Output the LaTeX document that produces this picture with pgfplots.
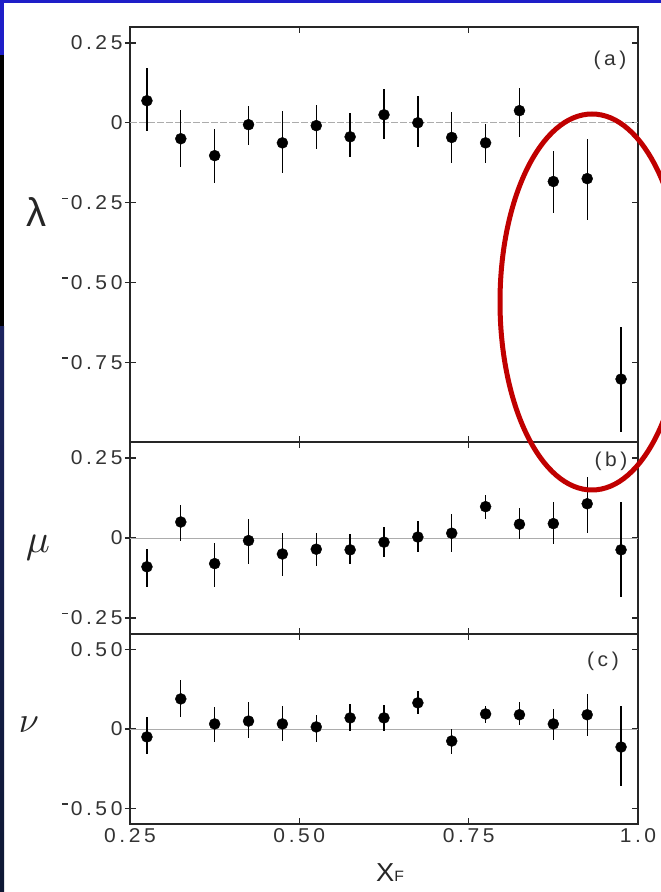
\documentclass[border=0pt]{standalone}
\usepackage{pgfplots}
\pgfplotsset{compat=1.18}
\usepackage{pgfplotstable}
\usepackage{fontspec}
\newfontfamily\lab[FakeStretch=1.05,LetterSpace=18]{Liberation Sans}
\newfontfamily\glab{Liberation Sans}
\newcommand\m{\rule[0.52em]{0.3em}{0.07em}\hspace{0.12em}}
\definecolor{topblue}{RGB}{30,30,200}
\definecolor{navyA}{RGB}{28,36,95}
\definecolor{navyB}{RGB}{14,24,52}
\definecolor{ellred}{RGB}{192,0,0}

\pgfplotstableread{
x y ep em
0.275 0.069 0.103 0.094
0.325 -0.050 0.090 0.090
0.375 -0.103 0.084 0.087
0.425 -0.006 0.059 0.064
0.475 -0.063 0.100 0.094
0.525 -0.009 0.065 0.072
0.575 -0.044 0.074 0.062
0.625 0.025 0.081 0.075
0.675 0.000 0.084 0.075
0.725 -0.046 0.081 0.079
0.775 -0.063 0.060 0.062
0.825 0.038 0.072 0.082
0.875 -0.184 0.096 0.100
0.925 -0.175 0.125 0.131
0.975 -0.803 0.163 0.167
}\lamdata

\pgfplotstableread{
x y ep em
0.275 -0.090 0.055 0.064
0.325 0.050 0.053 0.060
0.375 -0.080 0.065 0.072
0.425 -0.008 0.066 0.072
0.475 -0.050 0.065 0.068
0.525 -0.035 0.050 0.052
0.575 -0.037 0.050 0.043
0.625 -0.013 0.048 0.045
0.675 0.003 0.050 0.046
0.725 0.015 0.060 0.060
0.775 0.098 0.036 0.040
0.825 0.043 0.050 0.046
0.875 0.045 0.068 0.064
0.925 0.107 0.083 0.091
0.975 -0.037 0.149 0.147
}\mudata

\pgfplotstableread{
x y ep em
0.275 -0.050 0.126 0.108
0.325 0.190 0.120 0.114
0.375 0.032 0.108 0.114
0.425 0.050 0.120 0.107
0.475 0.032 0.114 0.108
0.525 0.013 0.077 0.095
0.575 0.070 0.088 0.083
0.625 0.070 0.080 0.083
0.675 0.165 0.075 0.070
0.725 -0.076 0.076 0.082
0.775 0.095 0.051 0.055
0.825 0.090 0.080 0.065
0.875 0.032 0.095 0.102
0.925 0.090 0.130 0.134
0.975 -0.114 0.260 0.246
}\nudata

\pgfplotsset{
  panel/.style={
    scale only axis, width=508pt, anchor=south west,
    xmin=0.25, xmax=1.0, xtick={0.25,0.5,0.75,1},
    tick align=inside, major tick length=6pt,
    axis line style={line width=1.5pt, black!85},
    tick style={line width=1.2pt, black!85},
    ticklabel style={font=\fontsize{20}{22}\lab, black!80},
    yticklabel style={xshift=-4pt},
    xticklabel style={yshift=-1pt},
    extra y tick labels={},
    extra y tick style={tick align=outside, major tick length=5pt, ytick pos=left},
  },
  zeroline/.style={gray!65, line width=0.7pt, forget plot},
  pts/.style={only marks, mark=*, mark size=5.5pt, black,
    error bars/.cd, y dir=both, y explicit, error mark=none,
    error bar style={line width=1.3pt, black}},
}

\begin{document}
\begin{tikzpicture}
\useasboundingbox (0,0) rectangle (661pt,892pt);
\fill[white] (0,0) rectangle (661pt,892pt);
\fill[topblue] (0,889pt) rectangle (661pt,892pt);
\fill[topblue] (0,837pt) rectangle (4pt,892pt);
\fill[black] (0,565pt) rectangle (4pt,837pt);
\shade[top color=navyA, bottom color=navyB] (0,0) rectangle (4pt,565pt);

% panel (a)
\begin{axis}[panel, at={(130pt,450pt)}, height=415pt,
  ymin=-1.0, ymax=0.30,
  ytick={-0.75,-0.5,-0.25,0,0.25},
  yticklabels={{\m0.75},{\m0.50},{\m0.25},0,0.25},
  extra y ticks={-0.75,-0.5,-0.25,0,0.25},
  xticklabels={}]
\addplot[zeroline, dash pattern=on 7pt off 2pt] coordinates {(0.25,0) (1,0)};
\addplot[pts] table[x=x, y=y, y error plus=ep, y error minus=em] {\lamdata};
\end{axis}

% panel (b)
\begin{axis}[panel, at={(130pt,258pt)}, height=192pt,
  ymin=-0.30, ymax=0.30,
  ytick={-0.25,0,0.25},
  yticklabels={{\m0.25},0,0.25},
  extra y ticks={-0.25,0,0.25},
  xticklabels={}]
\addplot[zeroline] coordinates {(0.25,0) (1,0)};
\addplot[pts] table[x=x, y=y, y error plus=ep, y error minus=em] {\mudata};
\end{axis}

% panel (c)
\begin{axis}[panel, at={(130pt,68pt)}, height=190pt,
  ymin=-0.60, ymax=0.60,
  ytick={-0.5,0,0.5},
  yticklabels={{\m0.50},0,0.50},
  extra y ticks={-0.5,0,0.5},
  xticklabels={0.25,0.50,0.75,1.0}]
\addplot[zeroline] coordinates {(0.25,0) (1,0)};
\addplot[pts] table[x=x, y=y, y error plus=ep, y error minus=em] {\nudata};
\end{axis}

% axis symbols and panel letters
\node[font=\fontsize{40}{44}\glab, black!85] at (36pt,680pt) {λ};
\node[font=\fontsize{10}{12}\selectfont, scale=4, black!85] at (38pt,344pt) {$\mu$};
\node[font=\fontsize{10}{12}\selectfont, scale=3.6, black!85] at (29pt,167pt) {$\nu$};
\node[font=\fontsize{20}{22}\lab, black!80] at (610pt,832pt) {(a)};
\node[font=\fontsize{20}{22}\lab, black!80] at (611pt,431pt) {(b)};
\node[font=\fontsize{20}{22}\lab, black!80] at (603pt,231pt) {(c)};
\node[anchor=base, inner sep=0pt, black!85] at (390pt,10pt)
  {{\fontsize{26}{28}\lab X}{\fontsize{15}{16}\lab F}};

% highlight ellipse
\begin{scope}
\clip (0,0) rectangle (661pt,892pt);
\draw[line width=5pt, ellred] (592pt,590pt) ellipse [x radius=92pt, y radius=188pt];
\end{scope}
\end{tikzpicture}
\end{document}
